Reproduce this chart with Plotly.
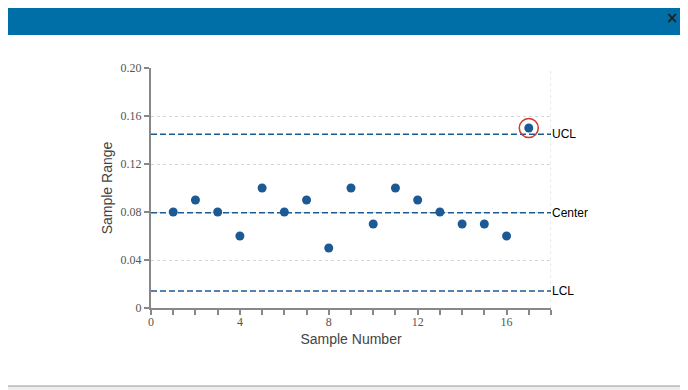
import plotly.graph_objects as go

sample_number = [1, 2, 3, 4, 5, 6, 7, 8, 9, 10, 11, 12, 13, 14, 15, 16, 17]
sample_range = [0.08, 0.09, 0.08, 0.06, 0.10, 0.08, 0.09, 0.05, 0.10, 0.07, 0.10, 0.09, 0.08, 0.07, 0.07, 0.06, 0.15]
limit_names = ["UCL", "Center", "LCL"]
limit_values = [0.1447, 0.0794, 0.0141]
out_of_control = [17]
y_tick_vals = [0, 0.04, 0.08, 0.12, 0.16, 0.20]
y_tick_text = ["0", "0.04", "0.08", "0.12", "0.16", "0.20"]
x_tick_vals = [0, 4, 8, 12, 16]

# page offset of the figure (browser body margin)
OFF = 8
W, H = 688 - OFF, 390 - OFF
L, R, T, B = 151, 551, 68, 308  # plot area in page pixels

def px(x):
    return (x - L) / (R - L)

def py(y):
    return (B - y) / (B - T)

BLUE = "#1c5a94"
fig = go.Figure()

for name, v in zip(limit_names, limit_values):
    fig.add_trace(go.Scatter(x=[0, 18], y=[v, v], mode="lines",
                             line=dict(color=BLUE, width=1.5, dash="6px,3px"),
                             hoverinfo="skip", showlegend=False))
    fig.add_annotation(x=18, y=v, text=name, showarrow=False, xanchor="left",
                       xshift=-1, font=dict(family="Liberation Sans, Arial", size=12, color="#000"))

fig.add_trace(go.Scatter(x=sample_number, y=sample_range, mode="markers",
                         marker=dict(color=BLUE, size=9), showlegend=False))

ooc_y = [sample_range[sample_number.index(n)] for n in out_of_control]
fig.add_trace(go.Scatter(x=out_of_control, y=ooc_y, mode="markers",
                         marker=dict(color="rgba(0,0,0,0)", size=19,
                                     line=dict(color="#d0392b", width=1.5)),
                         hoverinfo="skip", showlegend=False))

shapes = [
    dict(type="rect", xref="paper", yref="paper", x0=px(3), x1=px(685), y0=py(386), y1=py(2),
         fillcolor="white", line=dict(color="#9a9a9a", width=1), layer="below"),
    dict(type="rect", xref="paper", yref="paper", x0=px(3.5), x1=px(684.5), y0=py(35), y1=py(2.5),
         fillcolor="#006ea7", line=dict(width=0), layer="below"),
    dict(type="line", xref="x", yref="paper", x0=18, x1=18, y0=0, y1=1,
         line=dict(color="#d6d6d6", width=1, dash="dot"), layer="below"),
]
fig.add_annotation(xref="paper", yref="paper", x=px(672), y=py(18), text="<b>×</b>",
                   xanchor="center", yanchor="middle",
                   showarrow=False, font=dict(family="DejaVu Sans", size=15, color="#222"))

fig.update_layout(
    width=W, height=H,
    margin=dict(l=L - OFF, r=688 - R, t=T - OFF, b=390 - B),
    paper_bgcolor="#eeeeee", plot_bgcolor="white",
    shapes=shapes,
    xaxis=dict(range=[0, 18], tickvals=x_tick_vals, ticks="outside", ticklen=5, tickwidth=1.5,
               tickcolor="#888", showline=True, linecolor="#888", linewidth=2,
               showgrid=False, zeroline=False, ticklabelstandoff=-3,
               minor=dict(dtick=1, ticks="outside", ticklen=5, tickwidth=1.5, tickcolor="#888"),
               tickfont=dict(family="Liberation Serif, Times New Roman", size=12, color="#555"),
               title=dict(text="Sample Number", standoff=6,
                          font=dict(family="Liberation Sans, Arial", size=14, color="#444"))),
    yaxis=dict(range=[0, 0.2], tickvals=y_tick_vals, ticktext=y_tick_text, ticks="outside",
               ticklen=5, tickwidth=1.5, tickcolor="#888", showline=True, linecolor="#888",
               linewidth=2, showgrid=True, gridcolor="#d6d6d6", griddash="dot", zeroline=False,
               tickfont=dict(family="Liberation Serif, Times New Roman", size=12, color="#555"),
               title=dict(text="Sample Range", standoff=5,
                          font=dict(family="Liberation Sans, Arial", size=14, color="#444"))),
)

fig.write_html("out.html")
